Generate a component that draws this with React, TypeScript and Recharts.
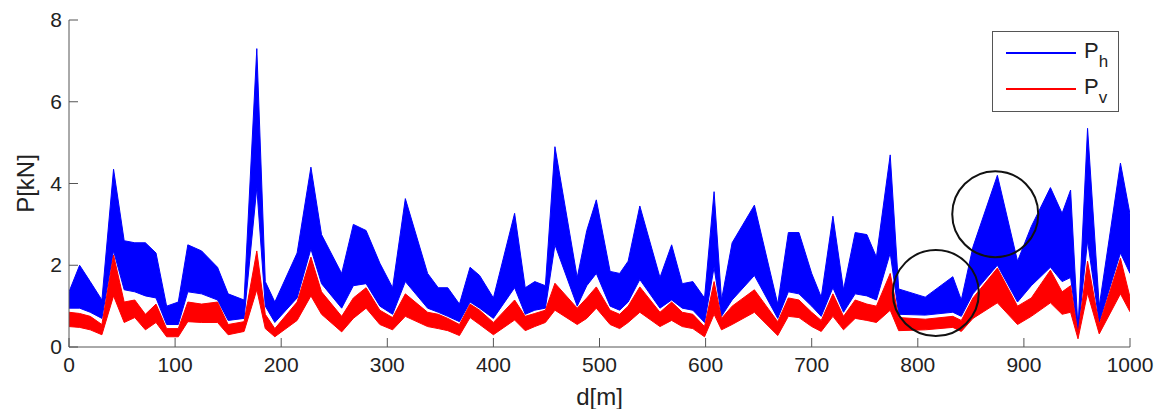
import React from "react";
import {
  ComposedChart,
  Area,
  XAxis,
  YAxis,
  Legend,
  ReferenceDot,
} from "recharts";

// sample positions along the track [m]
const distance = [
  0, 10, 20, 31, 42, 52, 62, 72, 82, 92,
  103, 112, 125, 140, 150, 165, 177, 185, 194, 215,
  228, 238, 257, 268, 280, 293, 305, 317, 338, 348,
  357, 368, 378, 387, 400, 420, 430, 439, 449, 458,
  479, 488, 497, 510, 519, 527, 538, 557, 568, 578,
  588, 599, 608, 615, 625, 646, 668, 678, 688, 700,
  709, 720, 730, 741, 752, 761, 774, 782, 807, 833,
  841, 852, 875, 894, 907, 925, 936, 944, 951, 960,
  971, 991, 1000,
];

// Ph envelope [kN]
const phHigh = [
  1.35, 2.0, 1.6, 1.15, 4.35, 2.6, 2.55, 2.55, 2.3, 1.0,
  1.1, 2.5, 2.35, 1.95, 1.3, 1.15, 7.3, 1.6, 1.1, 2.3,
  4.4, 2.75, 1.8, 3.0, 2.85, 2.05, 1.45, 3.63, 1.8, 1.45,
  1.45, 1.05, 1.95, 1.75, 1.2, 3.27, 1.45, 1.6, 1.5, 4.9,
  1.7, 2.85, 3.6, 1.85, 1.8, 2.1, 3.45, 1.7, 2.5, 1.55,
  1.6, 1.2, 3.8, 1.15, 2.55, 3.47, 1.05, 2.8, 2.8, 1.8,
  1.22, 3.2, 1.4, 2.8, 2.75, 2.2, 4.7, 1.42, 1.22, 1.72,
  1.15, 2.45, 4.2, 2.1, 2.95, 3.9, 3.27, 3.84, 0.45, 5.35,
  1.0, 4.5, 3.25,
];
const phLow = [
  0.95, 0.95, 0.85, 0.7, 2.35, 1.4, 1.35, 1.25, 1.2, 0.55,
  0.55, 1.35, 1.3, 1.15, 0.65, 0.7, 3.9, 1.0, 0.6, 1.2,
  2.4, 1.55, 0.95, 1.5, 1.55, 1.0, 0.8, 1.6, 0.95, 0.85,
  0.75, 0.62, 1.1, 0.95, 0.7, 1.45, 0.8, 0.9, 0.95, 2.5,
  1.0, 1.5, 1.8, 1.0, 0.9, 1.1, 1.65, 0.95, 1.15, 0.95,
  0.9, 0.6, 1.95, 0.75, 1.15, 1.75, 0.7, 1.35, 1.3, 1.0,
  0.75, 1.45, 0.85, 1.3, 1.25, 1.15, 2.3, 0.8, 0.78, 0.85,
  0.75, 1.3, 2.0, 1.1, 1.5, 1.95, 1.6, 1.7, 0.35, 2.6,
  0.6, 2.3, 1.8,
];

// Pv envelope [kN]
const pvHigh = [
  0.85, 0.82, 0.75, 0.55, 2.25, 1.1, 1.15, 0.8, 1.05, 0.45,
  0.45, 1.1, 1.05, 1.1, 0.55, 0.62, 2.35, 0.8, 0.45, 1.1,
  2.2, 1.35, 0.75, 1.2, 1.45, 0.9, 0.72, 1.3, 0.85, 0.8,
  0.7, 0.55, 1.05, 0.9, 0.6, 1.15, 0.75, 0.82, 0.9, 1.56,
  0.95, 1.2, 1.47, 0.9, 0.8, 1.0, 1.47, 0.85, 1.1, 0.85,
  0.8, 0.5, 1.6, 0.7, 1.0, 1.4, 0.62, 1.2, 1.15, 0.85,
  0.65, 1.3, 0.75, 1.15, 1.05, 1.0, 1.8, 0.72, 0.68, 0.75,
  0.65, 1.2, 1.93, 1.0, 1.2, 1.88, 1.35, 1.5, 0.32, 2.1,
  0.55, 2.17, 1.22,
];
const pvLow = [
  0.5, 0.48, 0.42, 0.3, 1.25, 0.6, 0.72, 0.42, 0.6, 0.25,
  0.25, 0.62, 0.6, 0.6, 0.3, 0.38, 1.4, 0.45, 0.25, 0.65,
  1.25, 0.8, 0.37, 0.7, 0.95, 0.55, 0.42, 0.75, 0.5, 0.45,
  0.4, 0.28, 0.72, 0.55, 0.3, 0.66, 0.4, 0.5, 0.6, 0.9,
  0.55, 0.7, 0.95, 0.55, 0.45, 0.6, 0.85, 0.5, 0.65, 0.5,
  0.45, 0.25, 0.8, 0.42, 0.55, 0.85, 0.28, 0.75, 0.72, 0.5,
  0.38, 0.75, 0.42, 0.7, 0.65, 0.6, 0.9, 0.4, 0.42, 0.48,
  0.38, 0.7, 1.08, 0.55, 0.75, 1.08, 0.8, 0.85, 0.2, 1.32,
  0.32, 1.3, 0.86,
];

const xTicks = [0, 100, 200, 300, 400, 500, 600, 700, 800, 900, 1000];
const yTicks = [0, 2, 4, 6, 8];

// highlighted regions (circle centres in data units)
const circleX = [817, 873];
const circleY = [1.32, 3.25];

const BLUE = "#0000ff";
const RED = "#ff0000";
const FRAME = "#555";
const FONT = "'Liberation Sans', Arial, Helvetica, sans-serif";

const rows = distance.map((d, i) => ({
  d,
  ph: [phLow[i], phHigh[i]],
  pv: [pvLow[i], pvHigh[i]],
}));

const BottomTick = (props: any) => {
  const { x, y, payload } = props;
  return (
    <g>
      <line x1={x} y1={y} x2={x} y2={y - 9} stroke={FRAME} />
      <text x={x} y={y + 25} textAnchor="middle" fontSize={21} fill="#222" fontFamily={FONT}>
        {payload.value}
      </text>
    </g>
  );
};

const TopTick = (props: any) => {
  const { x, y } = props;
  return <line x1={x} y1={y} x2={x} y2={y + 9} stroke={FRAME} />;
};

const LeftTick = (props: any) => {
  const { x, y, payload } = props;
  return (
    <g>
      <line x1={x} y1={y} x2={x + 9} y2={y} stroke={FRAME} />
      <text x={x - 7} y={y + 7} textAnchor="end" fontSize={21} fill="#222" fontFamily={FONT}>
        {payload.value}
      </text>
    </g>
  );
};

const RightTick = (props: any) => {
  const { x, y } = props;
  return <line x1={x} y1={y} x2={x - 9} y2={y} stroke={FRAME} />;
};

const LegendBox = () => {
  const item = (color: string, sub: string) => (
    <div style={{ display: "flex", alignItems: "center", height: 36 }}>
      <div style={{ width: 70, height: 0, borderTop: `2px solid ${color}`, marginLeft: 13, marginRight: 8 }} />
      <span style={{ fontSize: 22, color: "#222" }}>
        P<sub style={{ fontSize: 17, position: "relative", top: 4 }}>{sub}</sub>
      </span>
    </div>
  );
  return (
    <div
      style={{
        width: 127,
        height: 81,
        boxSizing: "border-box",
        border: `1.5px solid ${FRAME}`,
        background: "#fff",
        fontFamily: FONT,
        paddingTop: 3,
      }}
    >
      {item(BLUE, "h")}
      {item(RED, "v")}
    </div>
  );
};

export default function App() {
  return (
    <ComposedChart
      width={1150}
      height={401}
      data={rows}
      margin={{ top: 12, right: 28, left: 0, bottom: 0 }}
      style={{ fontFamily: FONT }}
    >
      <XAxis
        xAxisId="b"
        dataKey="d"
        type="number"
        domain={[0, 1000]}
        ticks={xTicks}
        interval={0}
        allowDataOverflow
        height={62}
        tickSize={0}
        tickMargin={0}
        tick={<BottomTick />}
        axisLine={{ stroke: FRAME }}
        label={{ value: "d[m]", position: "insideBottom", offset: 4, fontSize: 24, fill: "#222" }}
      />
      <XAxis
        xAxisId="t"
        dataKey="d"
        type="number"
        orientation="top"
        domain={[0, 1000]}
        ticks={xTicks}
        interval={0}
        height={0}
        tickSize={0}
        tickMargin={0}
        tick={<TopTick />}
        axisLine={{ stroke: FRAME }}
      />
      <YAxis
        yAxisId="l"
        type="number"
        domain={[0, 8]}
        ticks={yTicks}
        interval={0}
        width={61}
        tickSize={0}
        tickMargin={0}
        tick={<LeftTick />}
        axisLine={{ stroke: FRAME }}
        label={{
          value: "P[kN]",
          angle: -90,
          position: "insideLeft",
          offset: 17,
          fontSize: 24,
          fill: "#222",
          style: { textAnchor: "middle" },
        }}
      />
      <YAxis
        yAxisId="r"
        orientation="right"
        type="number"
        domain={[0, 8]}
        ticks={yTicks}
        interval={0}
        width={0}
        tickSize={0}
        tickMargin={0}
        tick={<RightTick />}
        axisLine={{ stroke: FRAME }}
      />
      <Area
        xAxisId="b"
        yAxisId="l"
        type="linear"
        dataKey="ph"
        name="Ph"
        stroke={BLUE}
        strokeWidth={1}
        fill={BLUE}
        fillOpacity={1}
        isAnimationActive={false}
      />
      <Area
        xAxisId="b"
        yAxisId="l"
        type="linear"
        dataKey="pv"
        name="Pv"
        stroke={RED}
        strokeWidth={1}
        fill={RED}
        fillOpacity={1}
        isAnimationActive={false}
      />
      {circleX.map((cx, i) => (
        <ReferenceDot
          key={i}
          xAxisId="b"
          yAxisId="l"
          x={cx}
          y={circleY[i]}
          r={43}
          fill="none"
          stroke="#111"
          strokeWidth={2}
        />
      ))}
      <Legend
        layout="horizontal"
        verticalAlign="middle"
        align="center"
        wrapperStyle={{ top: 23, left: 984, width: 127 }}
        content={<LegendBox />}
      />
    </ComposedChart>
  );
}
